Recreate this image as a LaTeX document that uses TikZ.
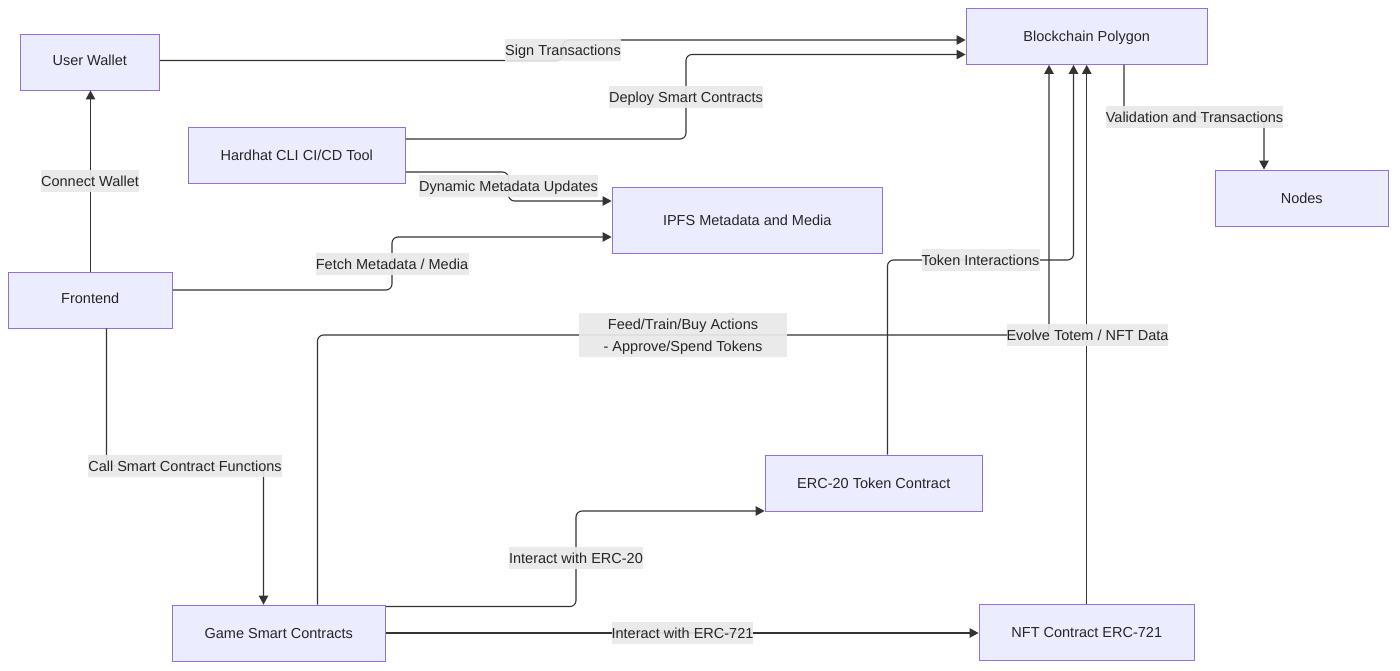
\documentclass[tikz,border=0pt]{standalone}
\usepackage{fontspec}
\setmainfont{Liberation Sans}
\usetikzlibrary{arrows.meta}
\definecolor{boxfill}{HTML}{ECECFF}
\definecolor{boxline}{HTML}{9370DB}
\definecolor{linkcol}{HTML}{333333}
\definecolor{labelbg}{HTML}{E8E8E8}

\begin{document}
\begin{tikzpicture}[
    x=1pt, y=-1pt,
    % Boxes
    box/.style={
        draw=boxline,
        fill=boxfill,
        line width=0.9pt,
        inner sep=0pt,
        minimum height=56pt,
        text height=12pt,
        text depth=1.5pt,
        text=black!85,
        font=\fontsize{14.5}{17}\selectfont
    },
    % Boxes with their text a little higher
    highbox/.style={
        box,
        text height=10.5pt,
        text depth=3pt
    },
    % Connectors
    link/.style={
        draw=linkcol,
        line width=1.1pt,
        rounded corners=6pt,
        -{Triangle[length=9pt,width=9.5pt]}
    },
    % Labels on connectors
    edgelabel/.style={
        fill=labelbg,
        fill opacity=0.93,
        text opacity=1,
        text=black!85,
        inner sep=0pt,
        minimum height=22pt,
        text height=13pt,
        text depth=1.5pt,
        font=\fontsize{14.5}{17}\selectfont
    }
]
    \useasboundingbox (0,0) rectangle (1400,671);

    % Main boxes
    \node[highbox, minimum width=139.5pt] (wallet) at (89.75,62) {User Wallet};
    \node[box, minimum width=241.5pt] (chain) at (1086.75,36.5) {Blockchain Polygon};
    \node[box, minimum width=217.5pt] (hardhat) at (296.75,155.5) {Hardhat CLI CI/CD Tool};
    \node[box, minimum width=270.5pt, minimum height=66pt] (ipfs) at (747.25,220.5) {IPFS Metadata and Media};
    \node[box, minimum width=173.5pt] (peers) at (1301.75,198) {Nodes};
    \node[highbox, minimum width=164.5pt] (frontend) at (90.25,300) {Frontend};
    \node[box, minimum width=217.5pt] (erc20) at (873.75,483) {ERC-20 Token Contract};
    \node[box, minimum width=213.5pt] (game) at (278.75,633) {Game Smart Contracts};
    \node[box, minimum width=215.5pt] (nft) at (1086.75,632) {NFT Contract ERC-721};

    % Where the connectors turn
    \coordinate (signbend) at (563,50);
    \coordinate (deploybend) at (686,97);
    \coordinate (dynamicbend) at (508.5,186);
    \coordinate (fetchbend) at (392,263.5);
    \coordinate (callbend) at (185,466);
    \coordinate (tokenbend) at (980.5,260);
    \coordinate (feedbend) at (683,335);
    \coordinate (validbend) at (1194.5,117);
    \coordinate (erc20bend) at (576,558);

    % Connectors
    \draw[link] ([xshift=.25pt]frontend.north) -- ([xshift=.75pt]wallet.south);
    \draw[link] ([yshift=1.5pt]wallet.east) -| (signbend) |- ([yshift=-3.5pt]chain.west);
    \draw[link] ([yshift=-16.5pt]hardhat.east) -| (dynamicbend) |- ([yshift=19.5pt]ipfs.west);
    \draw[link] ([yshift=16.5pt]hardhat.east) -| (deploybend) |- ([yshift=-18pt]chain.west);
    \draw[link] ([yshift=10pt]frontend.east) -| (fetchbend) |- ([yshift=-16.5pt]ipfs.west);
    \draw[link] ([xshift=16.25pt]frontend.south) |- (callbend) -| ([xshift=-15.25pt]game.north);
    \draw[link] ([xshift=38.75pt]game.north) |- (feedbend) -| ([xshift=-37.75pt]chain.south);
    \draw[link] ([xshift=13.75pt]erc20.north) |- (tokenbend) -| ([xshift=-13.25pt]chain.south);
    \draw[link] (nft.north) -- (chain.south);
    \draw[link] ([xshift=37.25pt]chain.south) |- (validbend) -| ([xshift=-37.75pt]peers.north);
    \draw[link] ([yshift=26.5pt]game.east) -| (erc20bend) |- ([yshift=-28pt]erc20.west);
    \draw[link] (game.east) -- (nft.west |- game.east);

    % Labels
    \node[edgelabel, minimum width=115pt] (signlabel) at (signbend) {Sign Transactions};
    \node[edgelabel, minimum width=154pt] (deploylabel) at (deploybend) {Deploy Smart Contracts};
    \node[edgelabel, minimum width=179pt] (dynamiclabel) at (dynamicbend) {Dynamic Metadata Updates};
    \node[edgelabel, minimum width=153pt] (fetchlabel) at (fetchbend) {Fetch Metadata / Media};
    \node[edgelabel, minimum width=98pt] (connectlabel) at (90,181) {Connect Wallet};
    \node[edgelabel, minimum width=194pt] (calllabel) at (callbend) {Call Smart Contract Functions};
    \node[edgelabel, minimum width=118pt] (tokenlabel) at (tokenbend) {Token Interactions};
    \node[edgelabel, minimum width=208pt] (feedlabel) at ([yshift=11pt]feedbend) {Feed/Train/Buy Actions\hspace{4pt}};
    \node[edgelabel, minimum width=208pt] (approvelabel) at ([yshift=-11pt]feedbend) {- Approve/Spend Tokens};
    \node[edgelabel, minimum width=161pt] (evolvelabel) at (1087.5,335) {Evolve Totem / NFT Data};
    \node[edgelabel, minimum width=177pt] (validlabel) at (validbend) {Validation and Transactions};
    \node[edgelabel, minimum width=134pt] (erc20label) at (erc20bend) {Interact with ERC-20};
    \node[edgelabel, minimum width=141pt] (erc721label) at (682.5,633) {Interact with ERC-721};
\end{tikzpicture}
\end{document}
